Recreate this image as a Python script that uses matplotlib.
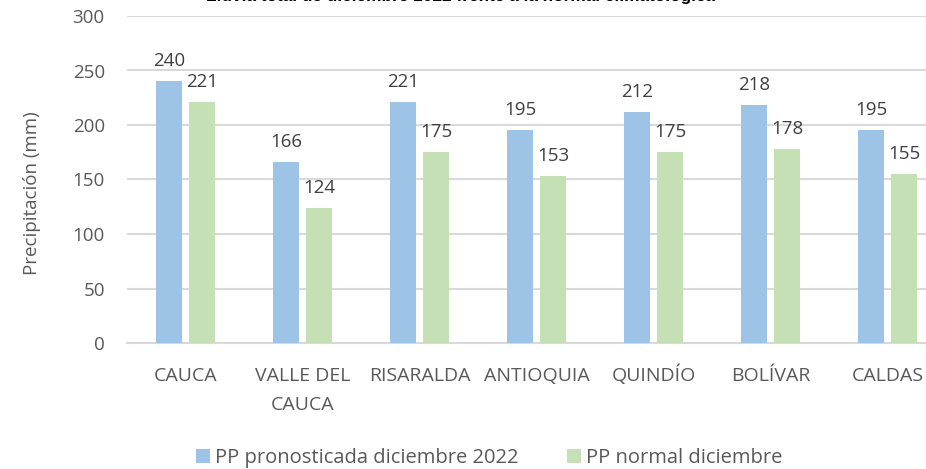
import numpy as np
import matplotlib.pyplot as plt
from matplotlib.patches import Patch

# ----------------------------------------------------------
# Data
# ----------------------------------------------------------

departamentos = [
    "CAUCA",
    "VALLE DEL\nCAUCA",
    "RISARALDA",
    "ANTIOQUIA",
    "QUINDÍO",
    "BOLÍVAR",
    "CALDAS",
]

pp_pronosticada = [240, 166, 221, 195, 212, 218, 195]
pp_normal = [221, 124, 175, 153, 175, 178, 155]

serie_pronosticada = "PP pronosticada diciembre 2022"
serie_normal = "PP normal diciembre"
titulo = "Lluvia total de diciembre 2022 frente a la normal climatológica"

# ----------------------------------------------------------
# Style
# ----------------------------------------------------------

plt.rcParams["font.family"] = ["Open Sans", "DejaVu Sans"]

AZUL = "#9DC3E6"
VERDE = "#C5E0B4"
GRIS_TEXTO = "#595959"
GRIS_LINEA = "#D9D9D9"
FS = 13.5

fig = plt.figure(figsize=(9.26, 4.69), dpi=100)
ax = fig.add_axes([127 / 926, 126 / 469, 819 / 926, 327 / 469])

x = np.arange(len(departamentos))
ancho = 0.222
desp = 0.141

barras_a = ax.bar(x - desp, pp_pronosticada, ancho, color=AZUL, zorder=3)
barras_b = ax.bar(x + desp, pp_normal, ancho, color=VERDE, zorder=3)

for barras, valores in [(barras_a, pp_pronosticada), (barras_b, pp_normal)]:
    for b, v in zip(barras, valores):
        ax.annotate(
            f"{v}",
            (b.get_x() + b.get_width() / 2, v),
            xytext=(0, 8),
            textcoords="offset points",
            ha="center",
            va="bottom",
            fontsize=FS,
            color="#404040",
        )

ax.set_xlim(-0.5, len(departamentos) - 0.5)
ax.set_ylim(0, 300)
ax.set_yticks(range(0, 301, 50))
ax.yaxis.grid(True, color=GRIS_LINEA, linewidth=1.5, zorder=0)
ax.set_axisbelow(True)

for lado in ["top", "right", "left"]:
    ax.spines[lado].set_visible(False)
ax.spines["bottom"].set_color(GRIS_LINEA)
ax.spines["bottom"].set_linewidth(1.5)

ax.tick_params(axis="y", length=0, pad=16, labelsize=FS, labelcolor=GRIS_TEXTO)

# category names, one line at a time on a shared baseline
ax.set_xticks(x)
ax.set_xticklabels([])
ax.tick_params(axis="x", length=0)
for i, nombre in enumerate(departamentos):
    for j, linea in enumerate(nombre.split("\n")):
        ax.annotate(
            linea,
            (i, 0),
            xycoords=("data", "axes fraction"),
            xytext=(0, -27.4 - 20.9 * j),
            textcoords="offset points",
            ha="center",
            va="baseline",
            fontsize=14,
            color=GRIS_TEXTO,
        )

fig.text(
    32 / 926,
    1 - 193 / 469,
    "Precipitación (mm)",
    rotation=90,
    ha="center",
    va="center",
    fontsize=FS,
    color=GRIS_TEXTO,
)

# title sits mostly above the canvas
fig.text(
    461 / 926,
    1 - 0.8 / 469,
    titulo,
    ha="center",
    va="baseline",
    fontsize=12.4,
    fontweight="bold",
    family=["Liberation Sans", "DejaVu Sans"],
    color="black",
)

handles = [
    Patch(facecolor=AZUL, edgecolor="none", label=serie_pronosticada),
    Patch(facecolor=VERDE, edgecolor="none", label=serie_normal),
]
fig.legend(
    handles=handles,
    loc="center",
    bbox_to_anchor=(489 / 926, 1 - 458 / 469),
    ncol=2,
    frameon=False,
    fontsize=14.5,
    labelcolor=GRIS_TEXTO,
    handlelength=0.7,
    handleheight=0.7,
    handletextpad=0.25,
    columnspacing=2.4,
)

plt.savefig("out.png", dpi=100)
plt.close()
